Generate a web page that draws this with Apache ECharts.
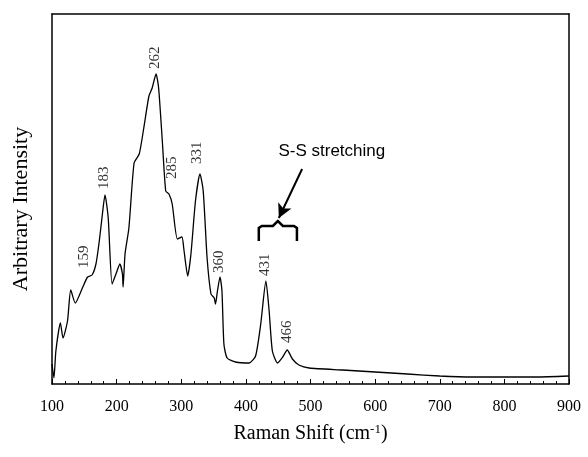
<!DOCTYPE html>
<html>
<head>
<meta charset="utf-8">
<script src="https://cdn.jsdelivr.net/npm/echarts@6/dist/echarts.min.js"></script>
<style>
  html, body { margin: 0; padding: 0; background: #fff; }
  #chart { width: 588px; height: 457px; }
</style>
</head>
<body>
<div id="chart"></div>
<script>
// Raman spectrum (arbitrary intensity units)
const ramanShift = [100, 103, 106, 113, 117, 124, 129, 136, 147, 155, 162, 168, 173, 178, 182, 187, 193, 199, 205, 209, 210,
  213, 219, 227, 235, 242, 250, 255, 261, 265, 271, 276, 281, 286, 294, 301, 304, 310, 315, 322, 329,
  334, 340, 346, 351, 353, 356, 360, 363, 366, 371, 384, 405, 415, 423, 431, 436, 441, 449, 457, 464,
  472, 482, 498, 550, 600, 650, 700, 750, 800, 850, 900]
const intensity = [20, 6, 33, 61, 46, 63, 94, 81, 96, 107, 109, 120, 142, 170, 189, 166, 100, 110, 120, 110, 97,
  130, 156, 221, 230, 256, 288, 296, 310, 296, 240, 193, 190, 180, 145, 147, 135, 108, 130, 183, 210,
  193, 126, 90, 86, 80, 93, 107, 93, 40, 26, 22, 21, 28, 60, 103, 73, 33, 21, 27, 34,
  25, 19, 16, 14, 12, 10, 8, 7, 7, 7, 8]

// peak labels (text) and where the foot of each rotated label sits
const peakLabels = ['159', '183', '262', '285', '331', '360', '431', '466']
const labelX = [150, 180, 259, 286, 324, 358, 430, 464]
const labelY = [116, 195, 315, 205, 220, 111, 108, 41]

// annotation: brace over the S-S band, arrow and caption
const braceX = [420, 479]
const braceY = [143, 158, 163]
const arrowFrom = [487, 215]
const arrowTo = [451, 166]
const captionAt = [533, 233]

const serif = '"Liberation Serif", "DejaVu Serif", serif'
const sans = '"Liberation Sans", Arial, sans-serif'
const frame = { onZero: false, lineStyle: { color: '#000', width: 1.5 } }

const chart = echarts.init(document.getElementById('chart'))

const option = {
  animation: false,
  grid: { left: 52, right: 19, top: 14, bottom: 73 },
  xAxis: [
    {
      type: 'value', min: 100, max: 900, interval: 100,
      name: 'Raman Shift (cm{sup|-1})', nameLocation: 'middle', nameGap: 39,
      nameTextStyle: { fontFamily: serif, fontSize: 20, color: '#000', rich: { sup: { fontFamily: serif, fontSize: 13, verticalAlign: 'top', padding: [0, 0, 8, 0], color: '#000' } } },
      axisLine: frame,
      axisTick: { inside: true, length: 5, lineStyle: { color: '#000' } },
      minorTick: { show: true, splitNumber: 5, length: 3, lineStyle: { color: '#000' } },
      axisLabel: { fontFamily: serif, fontSize: 16, color: '#000', margin: 15 },
      splitLine: { show: false },
    },
    {
      type: 'value', min: 100, max: 900, position: 'top',
      axisLine: frame,
      axisTick: { show: false }, axisLabel: { show: false }, splitLine: { show: false },
    },
  ],
  yAxis: [
    {
      type: 'value', min: 0, max: 370,
      name: 'Arbitrary Intensity', nameLocation: 'middle', nameGap: 20,
      nameTextStyle: { fontFamily: serif, fontSize: 22, color: '#000', padding: [0, 20, 0, 0] },
      axisLine: { show: true, ...frame },
      axisTick: { show: false }, axisLabel: { show: false }, splitLine: { show: false },
    },
    {
      type: 'value', min: 0, max: 370, position: 'right',
      axisLine: { show: true, ...frame },
      axisTick: { show: false }, axisLabel: { show: false }, splitLine: { show: false },
    },
  ],
  series: [
    {
      type: 'line',
      data: ramanShift.map((x, i) => [x, intensity[i]]),
      showSymbol: false,
      smooth: 0.2,
      lineStyle: { color: '#000', width: 1.3 },
      markLine: {
        silent: true,
        symbol: ['none', 'arrow'],
        symbolSize: [11, 14],
        label: { show: false },
        lineStyle: { color: '#000', width: 2, type: 'solid' },
        data: [[{ coord: arrowFrom }, { coord: arrowTo }]],
      },
    },
    {
      type: 'scatter',
      symbolSize: 0,
      data: labelX.map((x, i) => ({ value: [x, labelY[i]], name: peakLabels[i] })),
      label: {
        show: true, position: 'inside', rotate: 90, align: 'left', verticalAlign: 'middle',
        formatter: p => p.name,
        fontFamily: serif, fontSize: 15, color: '#000',
      },
    },
  ],
}

chart.setOption(option)

// brace and caption, placed in data coordinates
const px = v => chart.convertToPixel({ xAxisIndex: 0, yAxisIndex: 0 }, v)
const braceL = px([braceX[0], braceY[0]])
const braceR = px([braceX[1], braceY[0]])
const braceTop = px([braceX[0], braceY[1]])[1]
const midX = (braceL[0] + braceR[0]) / 2
const peakY = px([braceX[0], braceY[2]])[1]
const cap = px(captionAt)

chart.setOption({
  graphic: [
    {
      type: 'polyline',
      shape: {
        points: [
          [braceL[0], braceL[1]], [braceL[0], braceTop + 2], [braceL[0] + 3, braceTop], [midX - 5, braceTop],
          [midX, peakY], [midX + 5, braceTop], [braceR[0] - 3, braceTop], [braceR[0], braceTop + 2], [braceR[0], braceR[1]],
        ],
      },
      style: { stroke: '#000', lineWidth: 2.5, fill: null },
    },
    {
      type: 'text',
      x: cap[0], y: cap[1],
      style: { text: 'S-S stretching', font: '17px ' + sans, fill: '#000', align: 'center', verticalAlign: 'middle' },
    },
  ],
})
</script>
</body>
</html>
